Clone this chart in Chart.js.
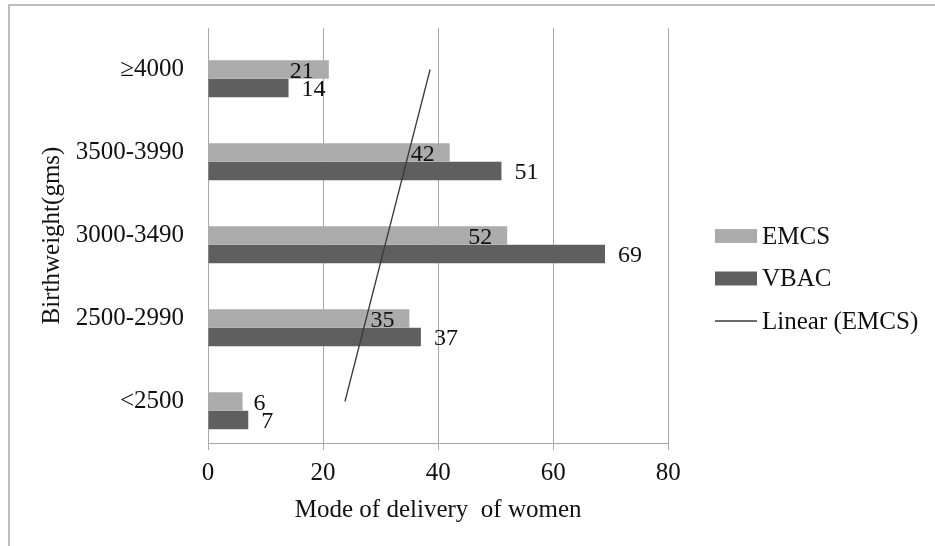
<!DOCTYPE html>
<html>
<head>
<meta charset="utf-8">
<script src="https://cdn.jsdelivr.net/npm/chart.js@4.4.1/dist/chart.umd.min.js"></script>
<style>
  html,body{margin:0;padding:0;background:#fff;}
  #wrap{position:relative;width:935px;height:546px;}
  #frame{position:absolute;left:8px;top:4px;right:-4px;bottom:-4px;border-top:2px solid #bdbdbd;border-left:2px solid #bdbdbd;pointer-events:none;}
</style>
</head>
<body>
<div id="wrap">
  <canvas id="chart"></canvas>
  <div id="frame"></div>
</div>
<script>
// birthweight groups, top to bottom as drawn
const categories = ['\u22654000', '3500-3990', '3000-3490', '2500-2990', '<2500'];
const emcs = [21, 42, 52, 35, 6];
const vbac = [14, 51, 69, 37, 7];
// Excel linear trend of EMCS, only its two end points
const trendEMCS = [38.6, null, null, null, 23.8];
const xTicks = [0, 20, 40, 60, 80];
const legendOrder = ['EMCS', 'VBAC', 'Linear (EMCS)'];

const SERIF = '"Liberation Serif", "Times New Roman", serif';
const COL_EMCS = '#ababab', COL_VBAC = '#5f5f5f', COL_TREND = '#3a3a3a', COL_GRID = '#a8a8a8';

// values at the bar ends: VBAC always outside, EMCS inside the end when there is room
const barLabels = {
  id: 'barLabels',
  afterDatasetsDraw(chart) {
    const ctx = chart.ctx;
    ctx.save();
    ctx.font = '24px ' + SERIF;
    ctx.fillStyle = '#111';
    ctx.textBaseline = 'middle';
    chart.data.datasets.forEach((ds, di) => {
      if (ds.type === 'line' || !ds.label) return;
      chart.getDatasetMeta(di).data.forEach((el, i) => {
        const v = ds.data[i];
        if (v == null) return;
        const len = el.x - el.base;
        if (ds.label === 'EMCS' && len > 45) {
          ctx.textAlign = 'right';
          ctx.fillText(String(v), el.x - 15, el.y + 2);
        } else {
          ctx.textAlign = 'left';
          ctx.fillText(String(v), el.x + (ds.label === 'EMCS' ? 11 : 13), el.y + 2);
        }
      });
    });
    ctx.restore();
  }
};

// legend on the right, Excel style
const sideLegend = {
  id: 'sideLegend',
  afterDraw(chart) {
    const ctx = chart.ctx;
    const x0 = 715, w = 42, y0 = 236, step = 42.5;
    ctx.save();
    ctx.font = '25px ' + SERIF;
    ctx.textBaseline = 'middle';
    ctx.textAlign = 'left';
    legendOrder.forEach((name, i) => {
      const d = chart.data.datasets.find(ds => ds.label === name);
      const y = y0 + i * step;
      if (d.type === 'line') {
        ctx.strokeStyle = d.borderColor;
        ctx.lineWidth = 1.3;
        ctx.beginPath(); ctx.moveTo(x0, y); ctx.lineTo(x0 + w, y); ctx.stroke();
      } else {
        ctx.fillStyle = d.backgroundColor;
        ctx.fillRect(x0, y - 7, w, 14);
      }
      ctx.fillStyle = '#111';
      ctx.fillText(name, x0 + w + 5, y + 1);
    });
    ctx.restore();
  }
};

new Chart(document.getElementById('chart'), {
  type: 'bar',
  data: {
    labels: categories,
    datasets: [
      { type: 'line', label: 'Linear (EMCS)', data: trendEMCS, indexAxis: 'y', spanGaps: true,
        borderColor: COL_TREND, borderWidth: 1.3, pointRadius: 0, fill: false, order: 0 },
      // empty slot Excel keeps above each pair of bars
      { label: '', data: [null, null, null, null, null], backgroundColor: 'rgba(0,0,0,0)', order: 1 },
      { label: 'EMCS', data: emcs, backgroundColor: COL_EMCS, order: 1 },
      { label: 'VBAC', data: vbac, backgroundColor: COL_VBAC, order: 1 }
    ]
  },
  options: {
    indexAxis: 'y',
    responsive: true,
    maintainAspectRatio: false,
    animation: false,
    layout: { padding: { top: 28, left: 8, right: 266.7, bottom: 0 } },
    datasets: { bar: { categoryPercentage: 0.67, barPercentage: 1 } },
    plugins: { legend: { display: false }, tooltip: { enabled: false } },
    scales: {
      x: {
        min: 0, max: 80,
        afterBuildTicks: s => { s.ticks = xTicks.map(v => ({ value: v })); },
        afterFit: s => { s.height = 103; },
        grid: { color: COL_GRID, lineWidth: 1, drawTicks: true, tickLength: 7, tickColor: COL_GRID },
        border: { display: true, color: COL_GRID, width: 1 },
        ticks: { color: '#111', padding: 8, font: { family: SERIF, size: 25 } },
        title: { display: true, text: 'Mode of delivery  of women', color: '#111',
                 font: { family: SERIF, size: 25 }, padding: { top: 0, bottom: 21 } }
      },
      y: {
        afterFit: s => { s.width = 200; },
        // invisible tick marks give the gap between labels and the plot
        grid: { display: true, color: 'rgba(0,0,0,0)', drawOnChartArea: false, drawTicks: true,
                tickLength: 22, tickColor: 'rgba(0,0,0,0)' },
        border: { display: false },
        ticks: { color: '#111', padding: 2, font: { family: SERIF, size: 25 } },
        title: { display: true, text: 'Birthweight(gms)', color: '#111',
                 font: { family: SERIF, size: 25 }, padding: { top: 29, bottom: 0 } }
      }
    }
  },
  plugins: [barLabels, sideLegend]
});
</script>
</body>
</html>
